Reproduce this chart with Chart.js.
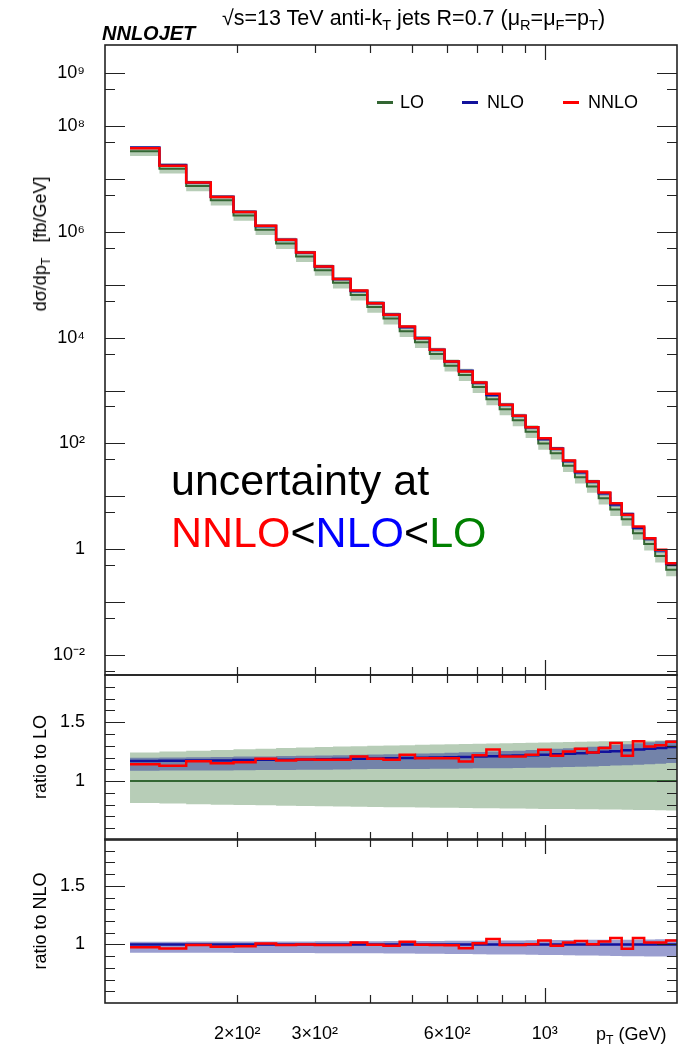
<!DOCTYPE html>
<html>
<head>
<meta charset="utf-8">
<script src="https://cdn.jsdelivr.net/npm/chart.js@4.4.0/dist/chart.umd.min.js"></script>
<style>
  body { margin: 0; background: #fff; width: 691px; height: 1050px; position: relative; overflow: hidden;
         font-family: 'Liberation Sans', Arial, sans-serif; color: #000; }
  canvas { position: absolute; left: 0; }
  .txt { position: absolute; white-space: nowrap; line-height: 1; }
  .txt sub { font-size: 68%; vertical-align: -0.35em; line-height: 0; }
  .rot { position: absolute; white-space: nowrap; line-height: 1; font-size: 18px; transform: translate(-50%, -50%) rotate(-90deg); }
  .rot sub { font-size: 68%; vertical-align: -0.35em; line-height: 0; }
  .leg { position: absolute; height: 3px; width: 16px; }
</style>
</head>
<body>
<canvas id="mainChart" width="691" height="700" style="top:0"></canvas>
<canvas id="ratioLoChart" width="691" height="215" style="top:650px"></canvas>
<canvas id="ratioNloChart" width="691" height="236" style="top:814px"></canvas>

<div class="txt" style="left:102px;top:23px;font-size:20px;font-weight:bold;font-style:italic;">NNLOJET</div>
<div class="txt" style="left:222px;top:8px;font-size:21.5px;">&radic;s=13 TeV anti-k<sub>T</sub> jets R=0.7 (&mu;<sub>R</sub>=&mu;<sub>F</sub>=p<sub>T</sub>)</div>

<div class="leg" style="left:377px;top:101px;background:#336633"></div>
<div class="txt" style="left:400px;top:93px;font-size:18px;">LO</div>
<div class="leg" style="left:462px;top:101px;background:#12129c"></div>
<div class="txt" style="left:487px;top:93px;font-size:18px;">NLO</div>
<div class="leg" style="left:563px;top:101px;background:#ff0000"></div>
<div class="txt" style="left:588px;top:93px;font-size:18px;">NNLO</div>

<div class="txt" style="left:171px;top:454px;font-size:43px;line-height:52px;">uncertainty at<br><span style="color:#ff0000">NNLO</span>&lt;<span style="color:#0000ff">NLO</span>&lt;<span style="color:#008000">LO</span></div>

<div class="rot" style="left:40px;top:244px;">d&sigma;/dp<sub>T</sub> &nbsp; [fb/GeV]</div>
<div class="rot" style="left:40px;top:757px;">ratio to LO</div>
<div class="rot" style="left:40px;top:921px;">ratio to NLO</div>
<div class="txt" style="left:596px;top:1025px;font-size:18px;">p<sub>T</sub> (GeV)</div>

<script>
// bin edges in GeV
var binEdges = [114, 133, 153, 174, 196, 220, 245, 272, 300, 330, 362, 395, 430, 468, 507, 548, 592, 638, 686, 737,
  790, 846, 905, 967, 1032, 1101, 1172, 1248, 1327, 1410, 1497, 1588, 1684, 1784, 1890, 2000];

// NNLO dsigma/dpT per bin [fb/GeV]
var nnloXs = [3.82e7, 1.77e7, 8.55e6, 4.53e6, 2.36e6, 1.30e6, 7.06e5, 4.06e5, 2.21e5, 1.28e5,
  7.77e4, 4.49e4, 2.70e4, 1.62e4, 9.79e3, 5.88e3, 3.53e3, 2.29e3, 1.42e3, 867,
  537, 333, 203, 126, 79, 47.5, 29.4, 19.1, 11.8, 7.44,
  4.47, 2.69, 1.62, 0.975, 0.546];

// ratio to LO panel
var nnloOverLo = [1.143, 1.131, 1.169, 1.151, 1.160, 1.189, 1.174, 1.183, 1.180, 1.180,
  1.209, 1.189, 1.180, 1.223, 1.194, 1.194, 1.194, 1.166, 1.220, 1.268,
  1.209, 1.209, 1.223, 1.266, 1.214, 1.251, 1.274, 1.243, 1.280, 1.323,
  1.214, 1.337, 1.294, 1.303, 1.334];
var nloOverLo = [1.171, 1.172, 1.174, 1.175, 1.178, 1.180, 1.181, 1.184, 1.186, 1.187,
  1.190, 1.192, 1.194, 1.196, 1.197, 1.200, 1.202, 1.205, 1.208, 1.211,
  1.214, 1.216, 1.220, 1.224, 1.228, 1.232, 1.237, 1.242, 1.248, 1.254,
  1.261, 1.267, 1.274, 1.281, 1.290];
// LO scale band (relative to LO)
var loUp = [1.243, 1.251, 1.258, 1.264, 1.270, 1.275, 1.280, 1.285, 1.289, 1.293,
  1.296, 1.299, 1.302, 1.305, 1.308, 1.311, 1.313, 1.315, 1.317, 1.319,
  1.321, 1.323, 1.325, 1.327, 1.329, 1.331, 1.333, 1.335, 1.337, 1.339,
  1.340, 1.342, 1.343, 1.345, 1.346];
var loDown = [0.814, 0.809, 0.804, 0.800, 0.797, 0.794, 0.791, 0.788, 0.786, 0.784,
  0.782, 0.780, 0.778, 0.777, 0.775, 0.774, 0.773, 0.771, 0.770, 0.769,
  0.768, 0.767, 0.765, 0.764, 0.763, 0.762, 0.761, 0.760, 0.759, 0.758,
  0.757, 0.755, 0.754, 0.753, 0.751];
// NLO scale band (relative to NLO)
var nloUp = [1.023, 1.023, 1.024, 1.024, 1.025, 1.025, 1.026, 1.026, 1.027, 1.027,
  1.028, 1.028, 1.029, 1.029, 1.030, 1.030, 1.031, 1.032, 1.032, 1.033,
  1.034, 1.034, 1.035, 1.036, 1.037, 1.037, 1.038, 1.039, 1.040, 1.041,
  1.041, 1.042, 1.043, 1.044, 1.045];
var nloDown = [0.929, 0.929, 0.928, 0.928, 0.927, 0.927, 0.926, 0.926, 0.925, 0.925,
  0.924, 0.924, 0.923, 0.922, 0.921, 0.920, 0.919, 0.918, 0.917, 0.915,
  0.914, 0.913, 0.912, 0.910, 0.909, 0.908, 0.906, 0.905, 0.903, 0.902,
  0.900, 0.899, 0.897, 0.896, 0.894];

// axis ticks
var xTickVals = [200, 300, 600, 1000];
var xTickLabels = ['2\u00d710\u00b2', '3\u00d710\u00b2', '6\u00d710\u00b2', '10\u00b3'];
var xMinorTicks = [200, 300, 400, 500, 600, 700, 800, 900];
var xMajorTicks = [1000];
var mainYTickVals = [1e-2, 1, 1e2, 1e4, 1e6, 1e8, 1e9];
var mainYTickLabels = ['10\u207b\u00b2', '1', '10\u00b2', '10\u2074', '10\u2076', '10\u2078', '10\u2079'];
var mainYMajor = [1e-2, 1e-1, 1, 1e1, 1e2, 1e3, 1e4, 1e5, 1e6, 1e7, 1e8, 1e9];
var mainYMinor = [5e-3, 5e-2, 5e-1, 5, 50, 500, 5e3, 5e4, 5e5, 5e6, 5e7, 5e8];
var ratioYTickVals = [1, 1.5];
var ratioYTickLabels = ['1', '1.5'];
var ratioYMajor = [1, 1.5];
var ratioYMinor = [0.6, 0.7, 0.8, 0.9, 1.1, 1.2, 1.3, 1.4, 1.6, 1.7, 1.8];

var green = '#336633', greenBand = 'rgba(60,120,60,0.37)';
var blue = '#12129c', blueBand = 'rgba(30,40,150,0.45)';
var red = '#ff0000';

Chart.defaults.font.family = "'Liberation Sans', Arial, sans-serif";
Chart.defaults.color = '#000';

// histogram points: value i holds from edge i to edge i+1
function stepData(vals) {
  var pts = vals.map(function (v, i) { return { x: binEdges[i], y: v }; });
  pts.push({ x: binEdges[binEdges.length - 1], y: vals[vals.length - 1] });
  return pts;
}

function lineSet(label, vals, color, width, order) {
  return { label: label, data: stepData(vals), stepped: 'before', borderColor: color, borderWidth: width,
    pointRadius: 0, fill: false, order: order, borderJoinStyle: 'miter', borderCapStyle: 'butt' };
}

function bandSets(up, down, color, order) {
  return [
    { data: stepData(up), stepped: 'before', borderWidth: 0, borderColor: 'rgba(0,0,0,0)',
      backgroundColor: color, pointRadius: 0, fill: '+1', order: order },
    { data: stepData(down), stepped: 'before', borderWidth: 0, borderColor: 'rgba(0,0,0,0)',
      pointRadius: 0, fill: false, order: order + 1 }
  ];
}

function mul(a, b) { return a.map(function (v, i) { return v * b[i]; }); }
function div(a, b) { return a.map(function (v, i) { return v / b[i]; }); }

// ROOT-like frame with inward ticks on all four sides
var frameTicks = {
  id: 'frameTicks',
  afterDraw: function (chart, args, opts) {
    var ctx = chart.ctx, a = chart.chartArea, xs = chart.scales.x, ys = chart.scales.y;
    ctx.save();
    ctx.strokeStyle = '#222';
    ctx.lineWidth = 1.2;
    ctx.beginPath();
    function xt(list, len) {
      list.forEach(function (v) {
        var p = Math.round(xs.getPixelForValue(v)) + 0.5;
        ctx.moveTo(p, a.top); ctx.lineTo(p, a.top + len);
        ctx.moveTo(p, a.bottom); ctx.lineTo(p, a.bottom - len);
      });
    }
    function yt(list, len) {
      list.forEach(function (v) {
        var p = Math.round(ys.getPixelForValue(v)) + 0.5;
        ctx.moveTo(a.left, p); ctx.lineTo(a.left + len, p);
        ctx.moveTo(a.right, p); ctx.lineTo(a.right - len, p);
      });
    }
    xt(xMinorTicks, 8);
    xt(xMajorTicks, 15);
    yt(opts.yMajor, 20);
    yt(opts.yMinor, 10);
    ctx.stroke();
    ctx.lineWidth = 1.6;
    ctx.strokeRect(a.left, a.top, a.right - a.left, a.bottom - a.top);
    ctx.restore();
  }
};

function xAxis(show) {
  var axis = {
    type: 'logarithmic', min: 100, max: 2000, display: show,
    grid: { display: false }, border: { display: false },
    ticks: { font: { size: 18 }, color: '#000', padding: 12, autoSkip: false, maxRotation: 0,
      callback: function (v, i) { return xTickLabels[i]; } },
    afterBuildTicks: function (s) { s.ticks = xTickVals.map(function (v) { return { value: v }; }); }
  };
  if (show) axis.afterFit = function (s) { s.height = 47; };
  return axis;
}

function yAxis(type, min, max, vals, labels) {
  return {
    type: type, min: min, max: max,
    grid: { display: false }, border: { display: false },
    ticks: { font: { size: 18 }, color: '#000', padding: 12, autoSkip: false,
      callback: function (v, i) { return labels[i]; } },
    afterBuildTicks: function (s) { s.ticks = vals.map(function (v) { return { value: v }; }); },
    afterFit: function (s) { s.width = 105; }
  };
}

function makeChart(id, datasets, y, xShow, pad, yMajor, yMinor) {
  return new Chart(document.getElementById(id), {
    type: 'line',
    data: { datasets: datasets },
    options: {
      responsive: false,
      animation: false,
      layout: { padding: pad },
      scales: { x: xAxis(xShow), y: y },
      plugins: {
        legend: { display: false },
        tooltip: { enabled: false },
        frameTicks: { yMajor: yMajor, yMinor: yMinor }
      }
    },
    plugins: [frameTicks]
  });
}

// derived curves
var loXs = div(nnloXs, nnloOverLo);
var nloXs = mul(loXs, nloOverLo);
var ones = nnloXs.map(function () { return 1; });

// top panel: cross sections
makeChart('mainChart',
  [].concat(
    bandSets(mul(loXs, loUp), mul(loXs, loDown), greenBand, 20),
    bandSets(mul(nloXs, nloUp), mul(nloXs, nloDown), blueBand, 10),
    [lineSet('LO', loXs, green, 2, 3), lineSet('NLO', nloXs, blue, 2.5, 2), lineSet('NNLO', nnloXs, red, 2.5, 1)]
  ),
  yAxis('logarithmic', 4.2e-3, 3.4e9, mainYTickVals, mainYTickLabels),
  false, { top: 45, right: 14, bottom: 25, left: 0 }, mainYMajor, mainYMinor);

// ratio to LO
makeChart('ratioLoChart',
  [].concat(
    bandSets(loUp, loDown, greenBand, 20),
    bandSets(mul(nloOverLo, nloUp), mul(nloOverLo, nloDown), blueBand, 10),
    [lineSet('LO', ones, green, 2, 3), lineSet('NLO', nloOverLo, blue, 2.5, 2), lineSet('NNLO', nnloOverLo, red, 2.5, 1)]
  ),
  yAxis('linear', 0.5, 1.9, ratioYTickVals, ratioYTickLabels),
  false, { top: 25, right: 14, bottom: 25, left: 0 }, ratioYMajor, ratioYMinor);

// ratio to NLO
makeChart('ratioNloChart',
  [].concat(
    bandSets(nloUp, nloDown, blueBand, 10),
    [lineSet('NLO', ones, blue, 2.5, 2), lineSet('NNLO', div(nnloOverLo, nloOverLo), red, 2.5, 1)]
  ),
  yAxis('linear', 0.5, 1.9, ratioYTickVals, ratioYTickLabels),
  true, { top: 25, right: 14, bottom: 0, left: 0 }, ratioYMajor, ratioYMinor);
</script>
</body>
</html>
